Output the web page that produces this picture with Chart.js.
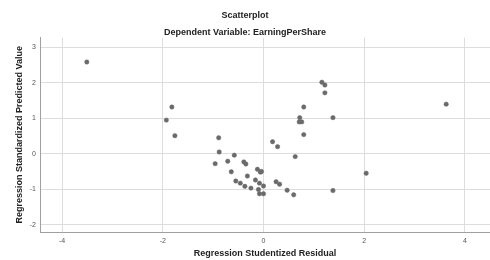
<!DOCTYPE html>
<html>
<head>
<meta charset="utf-8">
<script src="https://cdn.jsdelivr.net/npm/chart.js@4.4.1/dist/chart.umd.min.js"></script>
<style>
  body { margin: 0; background: #fff; }
  #box { width: 490px; height: 260px; }
</style>
</head>
<body>
<div id="box"><canvas id="chartS"></canvas></div>
<script>
// Regression Studentized Residual (x) vs Regression Standardized Predicted Value (y)
const residual = [-3.51, -1.82, -1.93, -1.76,
  -0.89, -0.88, -0.96, -0.58, -0.71, -0.64, -0.39, -0.35, -0.55, -0.46,
  -0.37, -0.25, -0.32, -0.16, -0.12, -0.06, -0.04, -0.08, 0.00, -0.10,
  -0.08, 0.00, 0.18, 0.28, 0.25, 0.32, 0.47, 0.60, 0.63, 0.80,
  0.80, 0.72, 0.71, 0.76, 1.16, 1.22, 1.22, 1.38, 1.38, 3.63, 2.04];
const predicted = [2.59, 1.32, 0.95, 0.51,
  0.45, 0.05, -0.28, -0.04, -0.21, -0.51, -0.23, -0.29, -0.77, -0.83,
  -0.92, -0.97, -0.63, -0.74, -0.44, -0.52, -0.50, -0.83, -0.91, -1.01,
  -1.13, -1.13, 0.34, 0.20, -0.79, -0.86, -1.03, -1.16, -0.08, 0.54,
  1.32, 1.02, 0.90, 0.90, 2.02, 1.94, 1.72, 1.02, -1.04, 1.40, -0.55];

const points = residual.map((r, i) => ({x: r, y: predicted[i]}));
const fam = '"Liberation Sans", Arial, sans-serif';

const chartS = new Chart(document.getElementById("chartS"), {
  type: 'scatter',
  data: {
    datasets: [{
      data: points,
      pointRadius: 2.2,
      pointBackgroundColor: '#6a6a6a',
      pointBorderColor: '#6a6a6a',
      borderWidth: 0.5
    }]
  },
  options: {
    responsive: true,
    maintainAspectRatio: false,
    animation: false,
    layout: { padding: 0, autoPadding: false },
    plugins: {
      legend: { display: false },
      tooltip: { enabled: false },
      title: {
        display: true,
        text: 'Scatterplot',
        color: '#222',
        font: { family: fam, size: 9, weight: 'bold' },
        padding: { top: 10, bottom: 6 }
      },
      subtitle: {
        display: true,
        text: 'Dependent Variable: EarningPerShare',
        color: '#222',
        font: { family: fam, size: 9, weight: 'bold' },
        padding: { top: 0, bottom: 0 }
      }
    },
    scales: {
      x: {
        type: 'linear',
        min: -4.44,
        max: 4.5,
        afterFit: s => { s.height = 28; },
        grid: { color: '#dddddd', drawTicks: false },
        border: { color: '#a0a0a0' },
        ticks: {
          stepSize: 2,
          includeBounds: false,
          padding: 5,
          color: '#555',
          font: { family: fam, size: 7 }
        },
        title: {
          display: true,
          text: 'Regression Studentized Residual',
          color: '#222',
          font: { family: fam, size: 9, weight: 'bold' },
          padding: { top: 0, bottom: 1 }
        }
      },
      y: {
        type: 'linear',
        min: -2.21,
        max: 3.28,
        afterFit: s => { s.width = 40; },
        grid: { color: '#dddddd', drawTicks: false },
        border: { color: '#a0a0a0' },
        ticks: {
          stepSize: 1,
          includeBounds: false,
          padding: 4,
          color: '#555',
          font: { family: fam, size: 7 }
        },
        title: {
          display: true,
          text: 'Regression Standardized Predicted Value',
          color: '#222',
          font: { family: fam, size: 9, weight: 'bold' },
          padding: { top: 14, bottom: 0 }
        }
      }
    }
  }
});
</script>
</body>
</html>
